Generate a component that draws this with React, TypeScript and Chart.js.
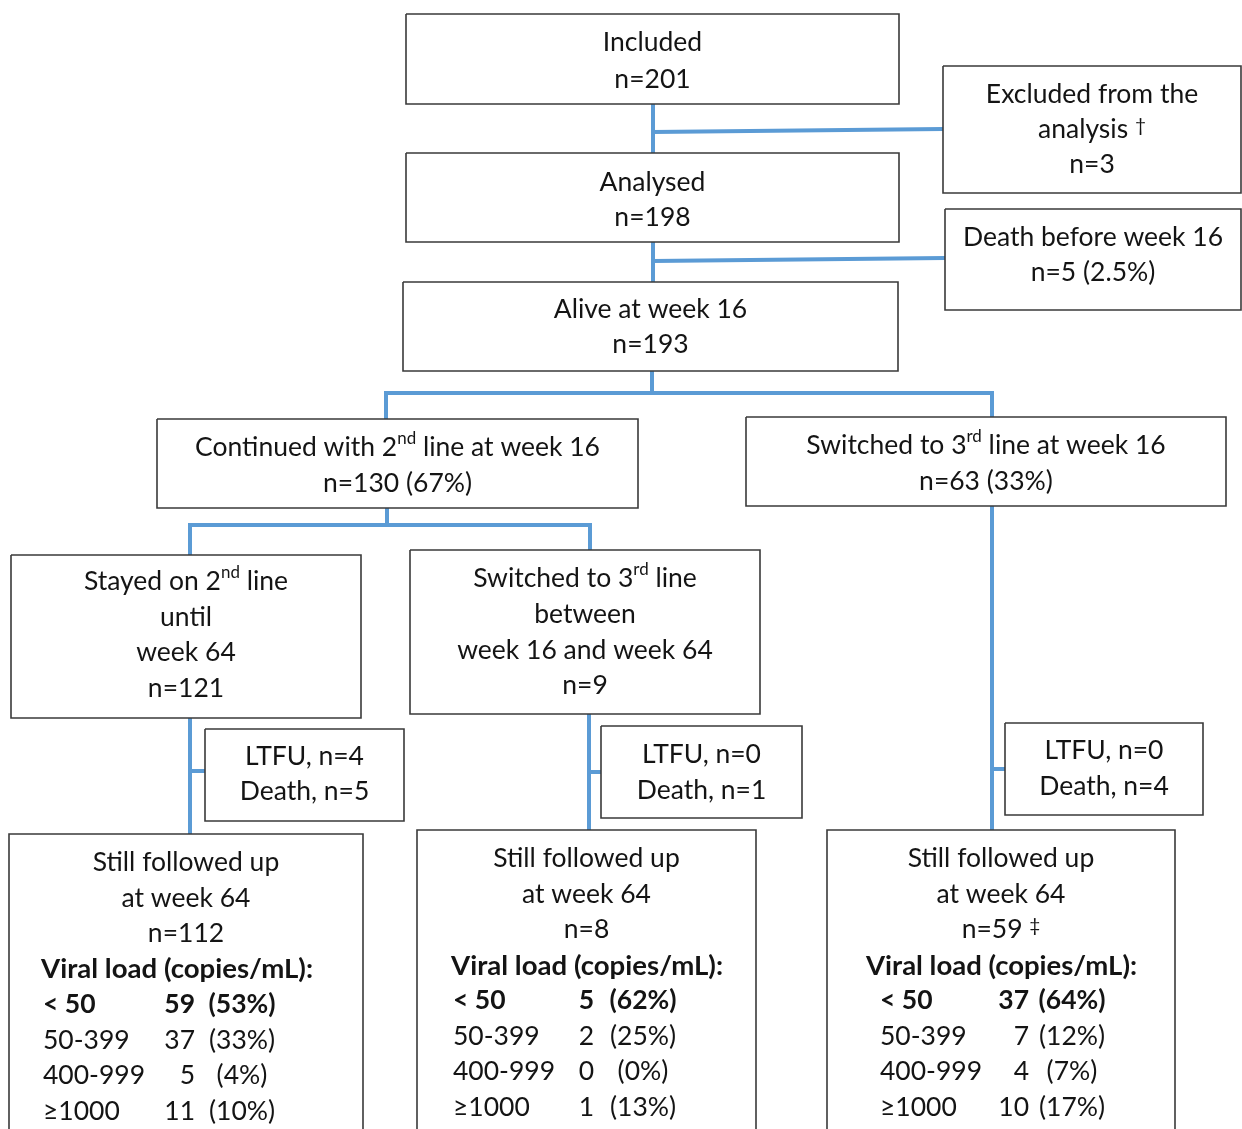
import React, { useEffect, useRef } from "react";
import { Chart, registerables } from "chart.js";
Chart.register(...registerables);

const CANVAS_W = 1242;
const CANVAS_H = 1129;

// ---------- content ----------
// ^x^ = superscript, ~x~ = small footnote mark
const nodeTexts: string[][] = [
  ["Included", "n=201"],
  ["Excluded from the", "analysis ~\u2020~", "n=3"],
  ["Analysed", "n=198"],
  ["Death before week 16", "n=5 (2.5%)"],
  ["Alive at week 16", "n=193"],
  ["Continued with 2^nd^ line at week 16", "n=130 (67%)"],
  ["Switched to 3^rd^ line at week 16", "n=63 (33%)"],
  ["Stayed on 2^nd^ line", "until", "week 64", "n=121"],
  ["Switched to 3^rd^ line", "between", "week 16 and week 64", "n=9"],
  ["LTFU, n=4", "Death, n=5"],
  ["LTFU, n=0", "Death, n=1"],
  ["LTFU, n=0", "Death, n=4"],
  ["Still followed up", "at week 64", "n=112"],
  ["Still followed up", "at week 64", "n=8"],
  ["Still followed up", "at week 64", "n=59 ~\u2021~"],
];

const vlHeader = "Viral load (copies/mL):";
const vlLabels = ["< 50", "50-399", "400-999", "\u22651000"];
const vlCountsStayed = [59, 37, 5, 11];
const vlPctStayed = [53, 33, 4, 10];
const vlCountsSwitchedLater = [5, 2, 0, 1];
const vlPctSwitchedLater = [62, 25, 0, 13];
const vlCountsSwitched16 = [37, 7, 4, 10];
const vlPctSwitched16 = [64, 12, 7, 17];

// ---------- layout (positions only) ----------
// [x0, y0, x1, y1]
const nodeBoxes: number[][] = [
  [406, 14, 899, 104],
  [943, 66, 1241, 193],
  [406, 153, 899, 242],
  [945, 209, 1241, 310],
  [403, 282, 898, 371],
  [157, 419, 638, 508],
  [746, 417, 1226, 506],
  [11, 555, 361, 718],
  [410, 550, 760, 714],
  [205, 729, 404, 821],
  [601, 726, 802, 818],
  [1005, 723, 1203, 815],
  [9, 834, 363, 1150],
  [417, 830, 756, 1150],
  [827, 830, 1175, 1150],
];
const openBottom = [false, false, false, false, false, false, false, false, false, false, false, false, true, true, true];
const nodeLineY: number[][] = [
  [42, 79],
  [94, 129, 164],
  [182, 217],
  [237, 272],
  [309, 344],
  [447, 483],
  [445, 481],
  [581, 617, 652, 688],
  [578, 614, 650, 685],
  [756, 791],
  [754, 790],
  [750, 786],
  [862, 898, 933],
  [858, 894, 929],
  [858, 894, 929],
];

const connectorPaths: number[][][] = [
  [[653, 104], [653, 153]],
  [[653, 132], [943, 129]],
  [[653, 242], [653, 282]],
  [[653, 261], [945, 258]],
  [[652, 371], [652, 393]],
  [[386, 419], [386, 393], [992, 393], [992, 417]],
  [[387, 508], [387, 525]],
  [[190, 555], [190, 525], [590, 525], [590, 550]],
  [[190, 718], [190, 834]],
  [[190, 771], [205, 771]],
  [[589, 714], [589, 830]],
  [[589, 772], [601, 772]],
  [[992, 506], [992, 830]],
  [[992, 769], [1005, 769]],
];

const tableLayout = [
  { headerX: 41, headerW: 272, labelX: 43, countRight: 195, pctCenter: 242, headerY: 969, rowY: [1004, 1040, 1075, 1111] },
  { headerX: 451, headerW: 272, labelX: 453, countRight: 594, pctCenter: 643, headerY: 966, rowY: [1000, 1036, 1071, 1107] },
  { headerX: 866, headerW: 271, labelX: 880, countRight: 1029, pctCenter: 1072, headerY: 966, rowY: [1000, 1036, 1071, 1107] },
];
const tableCounts = [vlCountsStayed, vlCountsSwitchedLater, vlCountsSwitched16];
const tablePcts = [vlPctStayed, vlPctSwitchedLater, vlPctSwitched16];

const BLUE = "#5B9BD5";
const BORDER = "#3a3a3a";
const TEXT = "#141414";
const FAMILY = "Lato, 'Open Sans', sans-serif";

function fontStr(size: number, bold = false) {
  return `${bold ? "bold " : ""}${size}px ${FAMILY}`;
}

type Seg = { t: string; kind: "n" | "sup" | "small" };
function parseRich(s: string): Seg[] {
  const parts = s.split(/(\^[^^]+\^|~[^~]+~)/).filter((p) => p.length > 0);
  return parts.map((p) => {
    if (p.startsWith("^") && p.endsWith("^") && p.length > 1) return { t: p.slice(1, -1), kind: "sup" };
    if (p.startsWith("~") && p.endsWith("~") && p.length > 1) return { t: p.slice(1, -1), kind: "small" };
    return { t: p, kind: "n" };
  });
}

function drawRich(
  ctx: CanvasRenderingContext2D,
  s: string,
  x: number,
  y: number,
  size: number,
  align: "center" | "left" | "right",
  bold = false,
  targetW = 0
) {
  const segs = parseRich(s);
  const sizeOf = (g: Seg) => (g.kind === "sup" ? size * 0.64 : g.kind === "small" ? size * 0.72 : size);
  const offOf = (g: Seg) => (g.kind === "sup" ? -size * 0.33 : g.kind === "small" ? -size * 0.12 : 0);
  let total = 0;
  const widths = segs.map((g) => {
    ctx.font = fontStr(sizeOf(g), bold);
    const w = ctx.measureText(g.t).width;
    total += w;
    return w;
  });
  const sxf = targetW > 0 ? targetW / total : 1;
  const drawnW = total * sxf;
  let cx = align === "center" ? x - drawnW / 2 : align === "right" ? x - drawnW : x;
  ctx.save();
  ctx.translate(cx, y);
  ctx.scale(sxf, 1);
  ctx.textAlign = "left";
  ctx.textBaseline = "middle";
  let off = 0;
  segs.forEach((g, i) => {
    ctx.font = fontStr(sizeOf(g), bold);
    ctx.fillText(g.t, off, offOf(g));
    off += widths[i];
  });
  ctx.restore();
}

const textPlugin = {
  id: "flowText",
  afterDatasetsDraw(chart: any) {
    const ctx: CanvasRenderingContext2D = chart.ctx;
    const sx = chart.scales.x;
    const sy = chart.scales.y;
    const px = (v: number) => sx.getPixelForValue(v);
    const py = (v: number) => sy.getPixelForValue(v);
    ctx.save();
    ctx.fillStyle = TEXT;
    ctx.font = fontStr(100);
    const refW = ctx.measureText("Death before week 16").width;
    const size = Math.round(((1228 - 968) / refW) * 100 * 10) / 10;

    nodeTexts.forEach((lines, i) => {
      const b = nodeBoxes[i];
      const cx = (px(b[0]) + px(b[2])) / 2;
      lines.forEach((ln, j) => drawRich(ctx, ln, cx, py(nodeLineY[i][j]), size, "center"));
    });

    tableLayout.forEach((tl, k) => {
      drawRich(ctx, vlHeader, px(tl.headerX), py(tl.headerY), size, "left", true, px(tl.headerX + tl.headerW) - px(tl.headerX));
      vlLabels.forEach((lab, r) => {
        const bold = r === 0;
        const y = py(tl.rowY[r]);
        drawRich(ctx, lab, px(tl.labelX), y, size, "left", bold);
        drawRich(ctx, String(tableCounts[k][r]), px(tl.countRight), y, size, "right", bold);
        drawRich(ctx, `(${tablePcts[k][r]}%)`, px(tl.pctCenter), y, size, "center", bold);
      });
    });
    ctx.restore();
  },
};

export default function App() {
  const ref = useRef<HTMLCanvasElement | null>(null);
  useEffect(() => {
    document.body.style.margin = "0";
    const canvas = ref.current;
    if (!canvas) return;

    const connectorSets = connectorPaths.map((path) => ({
      data: path.map(([x, y]) => ({ x, y })),
      showLine: true,
      borderColor: BLUE,
      borderWidth: 4,
      pointRadius: 0,
      fill: false,
      tension: 0,
      borderJoinStyle: "miter" as const,
      borderCapStyle: "butt" as const,
      order: 2,
    }));
    const boxSets = nodeBoxes.map((b, i) => {
      const [x0, y0, x1, y1] = b;
      const pts = openBottom[i]
        ? [[x0, y1], [x0, y0], [x1, y0], [x1, y1]]
        : [[x0, y0], [x1, y0], [x1, y1], [x0, y1], [x0, y0]];
      return {
        data: pts.map(([x, y]) => ({ x, y })),
        showLine: true,
        borderColor: BORDER,
        borderWidth: 1.6,
        pointRadius: 0,
        fill: false,
        tension: 0,
        borderJoinStyle: "miter" as const,
        order: 1,
      };
    });

    const chart = new Chart(canvas, {
      type: "scatter",
      data: { datasets: [...connectorSets, ...boxSets] as any },
      options: {
        animation: false,
        responsive: false,
        events: [],
        layout: { padding: 0 },
        plugins: { legend: { display: false }, tooltip: { enabled: false } },
        scales: {
          x: { type: "linear", min: 0, max: CANVAS_W, display: false },
          y: { type: "linear", min: 0, max: CANVAS_H, reverse: true, display: false },
        },
      },
      plugins: [textPlugin],
    });
    return () => chart.destroy();
  }, []);

  return (
    <div style={{ width: CANVAS_W, height: CANVAS_H, background: "#fff" }}>
      <canvas ref={ref} width={CANVAS_W} height={CANVAS_H} style={{ display: "block" }} />
    </div>
  );
}
